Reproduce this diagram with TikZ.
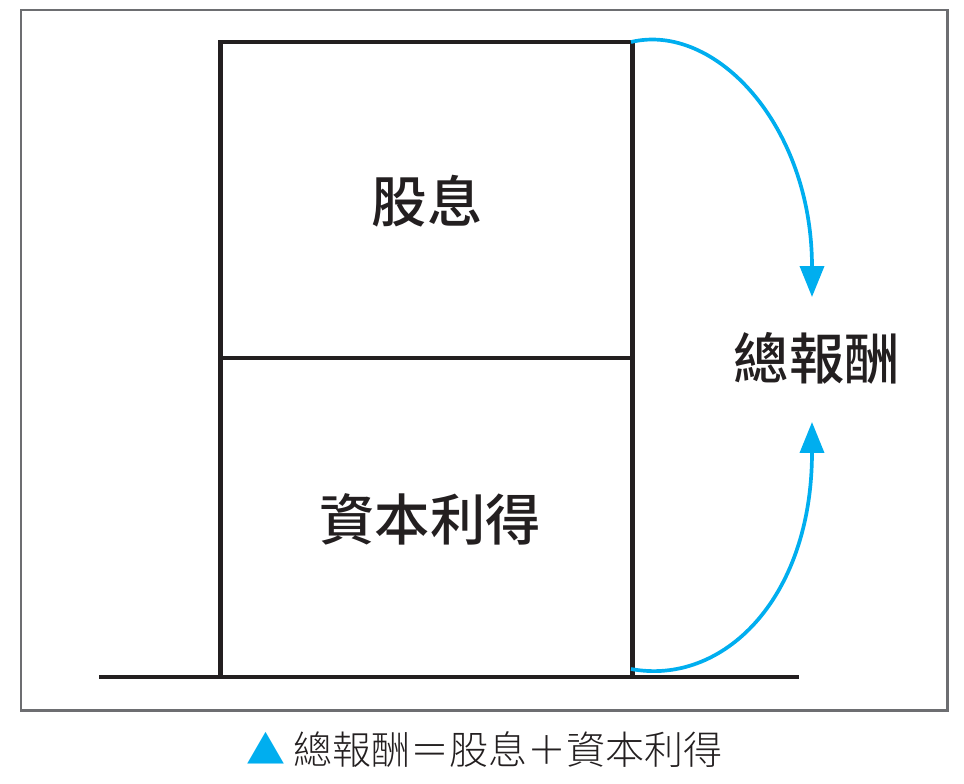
\documentclass[tikz,border=0pt]{standalone}
\usepackage{fontspec}
\usetikzlibrary{arrows.meta}
\newfontfamily\cjkmed{Noto Sans CJK TC Medium}
\newfontfamily\cjklight{Noto Sans CJK TC Light}
\definecolor{inkblack}{HTML}{231F20}
\definecolor{framegray}{HTML}{6D6E71}
\definecolor{arrowblue}{HTML}{00AEEF}
\tikzset{
  partline/.style={draw=inkblack, line width=2.3pt},
  growarrow/.style={draw=arrowblue, line width=2.1pt, -{Triangle[width=0.48cm, length=0.62cm]}},
  partlabel/.style={font=\cjkmed\fontsize{31.5}{34}\selectfont, text=inkblack}
}
\begin{document}
\begin{tikzpicture}[x=0.02cm, y=-0.02cm, line join=miter, line cap=butt]
  \useasboundingbox (0,0) rectangle (964,784);

  % Outer frame
  \draw[framegray, line width=1.7pt] (21,10) rectangle (947.5,710.5);

  % Box corners
  \coordinate (TL) at (220.5,42);
  \coordinate (TR) at (632.5,42);
  \coordinate (ML) at (220.5,358);
  \coordinate (MR) at (632.5,358);
  \coordinate (BL) at (220.5,677);
  \coordinate (BR) at (632.5,677);

  % Ground line
  \coordinate (GL) at (99,677);
  \coordinate (GR) at (799,677);

  % Box and split
  \draw[partline] (BL) -- (TL) -- (TR) -- (BR);
  \draw[partline] (ML) -- (MR);
  \draw[partline] (GL) -- (GR);

  % Labels
  \node[partlabel] (div) at (427,201) {股息};
  \node[partlabel] (gain) at (430,519) {資本利得};
  \node[partlabel] (total) at (817,358) {總報酬};

  % Arrow ends
  \coordinate (topstart) at (631,42);
  \coordinate (topend) at (812,297);
  \coordinate (botstart) at (631,669);
  \coordinate (botend) at (812,422);

  % Blue arrows
  \draw[growarrow] (topstart) .. controls (715,22) and (812,125) .. (topend);
  \draw[growarrow] (botstart) .. controls (722,686) and (812,600) .. (botend);

  % Caption
  \node[font=\cjklight\fontsize{22.2}{26}\selectfont, text=inkblack] (caption) at (484.5,750)
    {{\color{arrowblue}▲} 總報酬＝股息＋資本利得};
\end{tikzpicture}
\end{document}
